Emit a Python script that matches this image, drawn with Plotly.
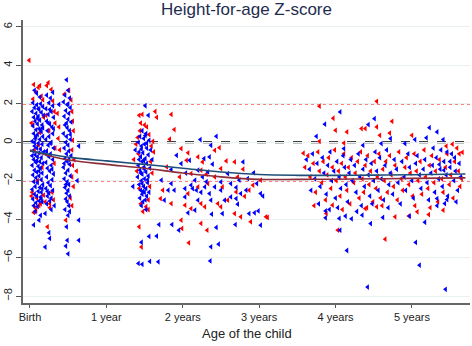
import plotly.graph_objects as go

# ---- data: (age in years, height-for-age z-score) ----
boys_birth = [(0.04,2.05),(0.09,1.95),(0.14,2.0),(0.06,1.8),(0.12,1.7),(0.17,1.85),(0.03,1.6),(0.08,1.5),(0.15,1.55),(0.11,1.35),(0.05,1.3),(0.18,1.4),(0.13,1.15),(0.07,1.1),(0.1,0.95),(0.16,0.9),(0.04,0.85),(0.12,0.7),(0.08,0.65),(0.15,0.55),(0.05,0.45),(0.1,0.4),(0.17,0.3),(0.07,0.2),(0.13,0.15),(0.03,0.05),(0.11,-0.05),(0.16,-0.1),(0.06,-0.2),(0.09,-0.3),(0.14,-0.35),(0.04,-0.45),(0.12,-0.55),(0.18,-0.5),(0.07,-0.65),(0.1,-0.75),(0.15,-0.8),(0.05,-0.9),(0.13,-1.0),(0.08,-1.05),(0.17,-1.1),(0.03,-1.2),(0.11,-1.25),(0.14,-1.35),(0.06,-1.45),(0.09,-1.55),(0.16,-1.6),(0.04,-1.7),(0.12,-1.75),(0.08,-1.85),(0.15,-1.95),(0.05,-2.05),(0.1,-2.1),(0.17,-2.2),(0.07,-2.3),(0.13,-2.35),(0.03,-2.45),(0.11,-2.55),(0.15,-2.6),(0.06,-2.7),(0.09,-2.8),(0.14,-2.85),(0.04,-2.95),(0.12,-3.05),(0.08,-3.15),(0.16,-3.1),(0.05,-3.3),(0.1,-3.35),(0.07,-3.6),(0.12,-4.05),(0.05,-4.3),(0.14,-3.8),(0.09,2.55),(0.06,2.7),(0.13,2.35),(0.1,1.25),(0.14,0.65),(0.06,0.0),(0.09,-0.95),(0.12,-1.5),(0.16,-2.4),(0.03,-0.7),(0.17,0.75),(0.08,0.3),(0.15,-2.95),(0.11,1.75)]
girls_birth = [(-0.01,4.26),(0.05,3.0),(0.11,2.85),(0.08,2.6),(0.15,2.4),(0.04,2.25),(0.17,2.2),(0.02,1.0),(0.18,1.3),(0.13,0.5),(0.06,-0.4),(0.16,-1.3),(0.1,-2.0),(0.03,-2.6),(0.14,-3.2),(0.07,-3.4),(0.12,-3.3),(0.05,-3.65),(0.09,-2.9),(0.18,-2.75),(0.04,0.9),(0.11,-0.15),(0.02,-2.8),(0.13,2.95),(0.08,-3.55)]

boys_3m = [(0.22,2.45),(0.27,2.3),(0.25,2.05),(0.3,1.9),(0.21,1.75),(0.28,1.6),(0.24,1.45),(0.31,1.3),(0.22,1.1),(0.26,0.95),(0.29,0.8),(0.23,0.6),(0.3,0.45),(0.25,0.3),(0.21,0.15),(0.28,0.0),(0.24,-0.15),(0.31,-0.3),(0.22,-0.45),(0.27,-0.6),(0.25,-0.75),(0.3,-0.9),(0.21,-1.05),(0.28,-1.2),(0.23,-1.35),(0.26,-1.5),(0.31,-1.65),(0.22,-1.8),(0.29,-1.95),(0.24,-2.1),(0.27,-2.25),(0.21,-2.4),(0.3,-2.5),(0.25,-2.65),(0.23,-2.8),(0.28,-2.9),(0.26,-3.05),(0.22,-3.2),(0.27,-0.05),(0.24,1.0),(0.29,-1.4),(0.23,-2.55),(0.3,2.6),(0.26,1.7),(0.25,-4.7),(0.26,-5.0),(0.2,-5.45),(0.28,-3.5),(0.32,-3.3),(0.2,-3.7),(0.31,0.7),(0.21,-0.6),(0.38,1.97)]
girls_3m = [(0.24,3.1),(0.28,2.75),(0.22,2.95),(0.3,2.15),(0.32,1.6),(0.33,1.0),(0.2,-3.1),(0.26,-3.4),(0.23,-4.4),(0.31,-3.0),(0.32,-1.1),(0.29,-2.6),(0.25,0.6),(0.21,1.4),(0.33,-0.3),(0.36,1.5),(0.38,0.8),(0.37,0.2),(0.39,-0.4),(0.26,-3.2)]

boys_6m = [(0.48,3.25),(0.5,2.7),(0.46,2.45),(0.52,2.3),(0.44,2.1),(0.49,1.95),(0.53,1.8),(0.47,1.65),(0.51,1.5),(0.45,1.35),(0.5,1.2),(0.54,1.05),(0.46,0.9),(0.49,0.75),(0.52,0.6),(0.44,0.45),(0.48,0.3),(0.53,0.15),(0.47,0.0),(0.5,-0.15),(0.45,-0.3),(0.51,-0.45),(0.48,-0.6),(0.54,-0.7),(0.46,-0.85),(0.49,-1.0),(0.52,-1.15),(0.44,-1.3),(0.5,-1.45),(0.47,-1.6),(0.53,-1.75),(0.45,-1.9),(0.49,-2.05),(0.51,-2.2),(0.46,-2.35),(0.5,-2.5),(0.48,-2.65),(0.52,-2.8),(0.47,-2.95),(0.49,-3.1),(0.51,-3.3),(0.46,-3.5),(0.5,-3.8),(0.48,-4.4),(0.49,-5.1),(0.47,-5.4),(0.5,-5.8),(0.64,-4.05),(0.64,-5.1),(0.48,1.0),(0.51,-0.9),(0.47,-2.2),(0.53,0.4),(0.45,-1.1),(0.5,2.0),(0.52,-3.6),(0.62,-2.0),(0.64,-0.2)]
girls_6m = [(0.51,2.7),(0.54,2.2),(0.55,1.6),(0.56,1.1),(0.57,0.6),(0.55,-0.4),(0.56,-1.2),(0.55,-1.8),(0.57,-2.3),(0.53,-2.9),(0.47,-4.05),(0.55,-3.3),(0.58,-0.9),(0.45,2.5),(0.56,0.1),(0.61,-1.5)]

boys_18m = [(1.51,1.9),(1.55,1.4),(1.47,0.6),(1.52,0.45),(1.44,0.3),(1.49,0.2),(1.56,0.1),(1.42,0.0),(1.5,-0.1),(1.46,-0.2),(1.53,-0.3),(1.58,-0.4),(1.43,-0.5),(1.48,-0.55),(1.55,-0.65),(1.45,-0.75),(1.51,-0.85),(1.6,-0.9),(1.47,-1.0),(1.53,-1.1),(1.42,-1.2),(1.49,-1.3),(1.57,-1.35),(1.44,-1.45),(1.52,-1.55),(1.47,-1.65),(1.55,-1.75),(1.41,-1.8),(1.5,-1.9),(1.46,-2.0),(1.54,-2.1),(1.43,-2.2),(1.49,-2.3),(1.52,-2.4),(1.45,-2.5),(1.5,-2.6),(1.47,-2.7),(1.53,-2.8),(1.44,-2.9),(1.51,-3.0),(1.48,-3.1),(1.46,-3.3),(1.52,-3.5),(1.49,-0.95),(1.46,-0.35),(1.54,-1.95),(1.48,-2.55),(1.43,-0.9),(1.56,-2.6),(1.51,0.35),(1.45,-1.6),(1.5,-1.4),(1.53,-0.05),(1.47,-2.15),(1.56,-4.9),(1.46,-5.2),(1.42,-6.3),(1.47,-6.35),(1.57,-6.2),(1.35,-2.3),(1.38,-0.4)]
girls_18m = [(1.43,1.4),(1.47,1.45),(1.45,1.0),(1.5,0.9),(1.44,0.6),(1.53,0.8),(1.41,0.25),(1.56,0.4),(1.59,-0.2),(1.42,-0.6),(1.58,-1.0),(1.4,-1.5),(1.6,-1.6),(1.43,-2.4),(1.57,-2.3),(1.45,-3.2),(1.52,-3.35),(1.48,-3.6),(1.43,-4.4),(1.46,-5.45),(1.55,-3.0),(1.61,0.05),(1.62,-0.5),(1.36,-0.9),(1.39,-0.1),(1.55,-3.5),(1.64,1.6),(1.66,1.3)]

boys_2y = [(2.23,0.14),(2.44,0.31),(2.37,-0.16),(1.92,-0.68),(1.98,-1.11),(2.09,-0.94),(2.28,-0.85),(2.35,-0.76),(2.39,-1.14),(2.2,-1.45),(2.33,-1.54),(2.26,-1.8),(1.85,-2.15),(1.89,-2.49),(2.03,-2.84),(2.11,-2.23),(2.18,-2.49),(2.29,-2.32),(2.35,-2.67),(2.42,-2.32),(2.5,-2.49),(2.63,-2.15),(2.7,-2.35),(2.74,-1.97),(2.79,-1.02),(2.93,-1.59),(3.02,-2.67),(2.87,-3.71),(2.94,-3.67),(2.99,-3.57),(3.02,-4.31),(2.69,-4.28),(2.44,-4.43),(2.37,-5.44),(2.47,-5.3),(2.36,-6.17),(1.86,-4.28),(1.95,-4.57),(1.69,-4.28),(1.66,-4.88),(1.68,-6.22),(2.07,-3.67),(2.16,-3.53),(2.38,-3.74),(2.52,-3.71),(2.72,-3.22),(2.7,-2.93),(1.76,-3.01),(1.72,-1.97),(1.81,-2.49),(2.03,-2.41),(2.13,-2.41),(2.2,-3.01),(2.37,-3.01),(2.55,-3.01),(2.63,-2.84),(2.76,-2.67),(2.83,-2.49),(3.05,-2.8),(1.85,-1.42),(2.04,-1.6),(2.16,-1.97),(2.5,-2.06),(2.59,-1.63),(2.85,-1.89),(2.97,-2.15),(2.31,-2.05),(2.24,-2.6)]
girls_2y = [(1.85,1.45),(1.89,0.66),(1.83,0.16),(1.98,-0.33),(2.07,-0.55),(2.05,-0.94),(2.2,-0.76),(2.26,-1.02),(2.42,-0.42),(2.48,-0.28),(2.57,-0.97),(2.68,-1.02),(2.79,-1.4),(2.5,-1.37),(2.24,-1.45),(2.31,-1.66),(2.11,-1.63),(1.96,-1.8),(1.79,-1.28),(1.74,-2.49),(1.71,-2.93),(1.85,-3.19),(2.03,-3.27),(2.24,-3.19),(2.29,-3.36),(2.46,-3.19),(2.5,-3.36),(2.59,-3.01),(2.7,-2.58),(2.68,-3.71),(2.81,-2.81),(2.87,-2.49),(2.76,-3.88),(2.89,-4.14),(3.09,-3.88),(3.11,-3.91),(2.11,-3.45),(1.98,-4.05),(1.99,-4.48),(2.24,-4.22),(2.32,-4.57),(2.08,-5.23),(2.42,-1.8),(2.52,-2.32),(2.33,-2.15),(2.2,-2.32),(2.07,-2.67),(2.72,-1.8),(2.92,-2.23),(3.02,-1.97)]

boys_4y = [(4.06,1.58),(3.86,0.94),(4.51,1.23),(4.43,0.92),(3.75,0.31),(5.23,0.76),(5.33,0.54),(5.41,0.14),(5.19,0.23),(4.72,0.19),(4.6,-0.07),(4.91,-0.07),(5.04,0.14),(4.36,-0.16),(4.11,-0.33),(3.87,-3.57),(3.87,-3.93),(4.05,-3.96),(4.13,-3.84),(4.21,-3.98),(4.35,-3.79),(4.62,-3.91),(4.46,-4.23),(5.17,-4.16),(4.06,-4.57),(4.15,-5.63),(4.42,-7.53),(5.1,-6.39),(5.44,-7.65),(5.05,-5.21),(4.97,-3.84),(5.33,-2.93),(5.46,-2.98),(5.43,-3.19),
           (3.62,-0.9),(3.66,-1.4),(3.7,-0.6),(3.73,-1.9),(3.76,-1.1),(3.8,-2.3),(3.83,-0.8),(3.85,-1.6),(3.88,-2.7),(3.9,-1.2),(3.93,-0.5),(3.95,-2.0),(3.98,-1.5),(4.0,-2.9),(4.02,-1.0),(4.05,-1.8),(4.07,-2.4),(4.1,-0.7),(4.12,-1.3),(4.14,-2.2),(4.16,-3.1),(4.18,-1.6),(4.2,-0.9),(4.22,-2.0),(4.25,-1.2),(4.27,-2.6),(4.3,-0.6),(4.32,-1.8),(4.34,-3.3),(4.36,-1.4),(4.38,-2.3),(4.4,-0.9),(4.43,-1.7),(4.45,-2.8),(4.47,-1.1),(4.5,-2.0),(4.52,-0.5),(4.54,-1.5),(4.56,-2.5),(4.58,-0.8),(4.6,-1.9),(4.63,-3.0),(4.65,-1.2),(4.67,-0.4),(4.7,-2.2),(4.72,-1.6),(4.75,-2.7),(4.77,-0.9),(4.8,-1.4),(4.82,-2.1),(4.85,-3.2),(4.87,-1.0),(4.9,-1.8),(4.92,-2.5),(4.95,-0.6),(4.97,-1.3),(5.0,-2.0),(5.02,-2.9),(5.05,-1.1),(5.07,-0.7),(5.1,-1.7),(5.12,-2.4),(5.15,-1.4),(5.17,-0.9),(5.2,-2.1),(5.22,-3.0),(5.25,-1.6),(5.27,-1.2),(5.3,-2.6),(5.32,-0.8),(5.35,-1.9),(5.37,-1.4),(5.4,-2.3),(5.42,-1.0),(5.45,-1.7),(5.47,-2.8),(5.5,-1.3),(5.52,-0.6),(5.55,-2.0),(5.57,-1.5),(5.6,-2.5),(5.62,-1.1),(5.64,-1.8),(3.68,-2.5),(3.78,-3.2),(3.92,-3.5),(4.03,-3.4),(4.28,-3.6),(4.48,-3.2),(4.69,-3.4),(5.33,-3.3),(5.58,-3.1),(5.28,-0.3),(5.38,-0.4),(5.46,-0.5),(5.56,-0.8),(5.5,-1.0),(5.42,-1.45),(5.36,-1.15)]
girls_4y = [(3.79,1.88),(4.54,2.13),(3.97,1.25),(4.0,0.62),(4.15,0.54),(4.34,0.71),(4.39,0.71),(4.54,0.8),(4.74,1.09),(4.58,0.36),(4.71,0.48),(5.0,0.36),(3.58,-0.57),(5.66,-0.52),(4.11,-0.04),(3.79,0.05),(4.03,-4.57),(4.65,-5.04),(4.78,-3.88),(4.96,-3.84),(5.07,-3.62),(5.22,-3.76),(5.41,-3.53),(3.88,-3.71),(3.96,-3.27),(4.39,-3.45),(4.54,-3.36),
            (3.6,-1.3),(3.64,-0.7),(3.67,-1.8),(3.71,-1.1),(3.74,-2.6),(3.77,-0.5),(3.79,-1.5),(3.82,-2.1),(3.84,-1.0),(3.87,-3.0),(3.89,-1.7),(3.91,-0.8),(3.94,-2.4),(3.96,-1.3),(3.99,-0.4),(4.01,-2.0),(4.04,-1.5),(4.06,-2.8),(4.08,-1.1),(4.11,-0.6),(4.13,-1.8),(4.15,-2.5),(4.17,-1.3),(4.19,-3.2),(4.21,-0.8),(4.24,-2.1),(4.26,-1.6),(4.29,-1.0),(4.31,-2.9),(4.33,-0.5),(4.35,-1.9),(4.37,-2.6),(4.39,-1.2),(4.42,-0.7),(4.44,-2.2),(4.46,-1.5),(4.49,-3.1),(4.51,-1.0),(4.53,-2.4),(4.55,-1.8),(4.57,-0.6),(4.59,-2.9),(4.62,-1.4),(4.64,-2.0),(4.66,-1.0),(4.68,-2.6),(4.71,-0.7),(4.73,-1.7),(4.76,-2.3),(4.78,-1.2),(4.81,-3.0),(4.83,-0.5),(4.86,-1.9),(4.88,-2.5),(4.91,-1.3),(4.93,-0.8),(4.96,-2.2),(4.98,-1.6),(5.01,-2.8),(5.03,-0.6),(5.06,-1.5),(5.08,-2.0),(5.11,-1.0),(5.13,-2.7),(5.16,-0.4),(5.18,-1.8),(5.21,-2.4),(5.23,-1.2),(5.26,-0.7),(5.29,-2.1),(5.31,-1.5),(5.34,-3.1),(5.36,-0.9),(5.39,-1.9),(5.41,-2.6),(5.44,-1.3),(5.46,-0.6),(5.49,-2.2),(5.51,-1.7),(5.54,-2.9),(5.56,-1.0),(5.59,-0.3),(5.61,-1.5),(5.63,-2.3),(5.65,-1.9),(3.72,-3.3),(4.09,-3.5),(4.41,-3.4),(4.61,-3.3),(5.04,-3.3),(5.24,-3.4),(5.45,-0.2),(5.53,-0.1),(5.62,-0.6)]

# smoothed trend lines
fit_age = [0.0, 0.3, 0.55, 1.0, 1.5, 2.0, 2.5, 3.0, 3.5, 4.0, 4.5, 5.0, 5.7]
fit_boys = [-0.45, -0.65, -0.8, -0.97, -1.15, -1.35, -1.55, -1.68, -1.72, -1.72, -1.71, -1.69, -1.65]
fit_girls = [-0.4, -0.75, -0.95, -1.15, -1.35, -1.6, -1.8, -1.93, -1.93, -1.92, -1.9, -1.88, -1.85]

tick_vals = [0, 1, 2, 3, 4, 5]
tick_text = ["Birth", "1 year", "2 years", "3 years", "4 years", "5 years"]
y_ticks = [-8, -6, -4, -2, 0, 2, 4, 6]

boys = boys_birth + boys_3m + boys_6m + boys_18m + boys_2y + boys_4y
girls = girls_birth + girls_3m + girls_6m + girls_18m + girls_2y + girls_4y

fig = go.Figure()
fig.add_trace(go.Scatter(x=[p[0] for p in girls], y=[p[1] for p in girls], mode="markers",
                         name="Girls", marker=dict(symbol="triangle-left", size=5, color="#ff0000")))
fig.add_trace(go.Scatter(x=[p[0] for p in boys], y=[p[1] for p in boys], mode="markers",
                         name="Boys", marker=dict(symbol="triangle-left", size=5, color="#0000ff")))
fig.add_trace(go.Scatter(x=fit_age, y=fit_girls, mode="lines", name="Girls fit",
                         line=dict(color="#8c2d3b", width=1.6, shape="spline")))
fig.add_trace(go.Scatter(x=fit_age, y=fit_boys, mode="lines", name="Boys fit",
                         line=dict(color="#1f4f78", width=1.6, shape="spline")))

shapes = [
    dict(type="line", xref="paper", x0=0, x1=1, yref="y", y0=0, y1=0, layer="below",
         line=dict(color="black", width=2, dash="dash")),
    dict(type="line", xref="paper", x0=0, x1=1, yref="y", y0=2, y1=2, layer="below",
         line=dict(color="#ff0000", width=1.5, dash="dot")),
    dict(type="line", xref="paper", x0=0, x1=1, yref="y", y0=-2, y1=-2, layer="below",
         line=dict(color="#ff0000", width=1.5, dash="dot")),
]

fig.update_layout(
    width=472, height=346,
    margin=dict(l=21, r=2, t=20, b=43),
    paper_bgcolor="white", plot_bgcolor="white",
    showlegend=False,
    font=dict(family="Liberation Sans, Arial, sans-serif", color="#222222", size=11),
    title=dict(text="Height-for-age Z-score", x=0.5, xref="paper", xanchor="center",
               y=0.975, yanchor="middle",
               font=dict(size=17, color="#1e2d50")),
    shapes=shapes,
    annotations=[dict(text="Age of the child", xref="paper", yref="paper", x=0.5, y=-0.108,
                      xanchor="center", yanchor="middle", showarrow=False,
                      font=dict(size=13, color="#222222"))],
    xaxis=dict(range=[-0.091, 5.76], tickvals=tick_vals, ticktext=tick_text,
               ticks="outside", ticklen=3, tickcolor="#555555", tickwidth=1,
               showline=True, linecolor="#666666", linewidth=1.5,
               showgrid=False, zeroline=False),
    yaxis=dict(range=[-8.36, 6.36], tickvals=y_ticks, tickangle=-90,
               ticks="outside", ticklen=5, tickcolor="#555555", tickwidth=1,
               showline=True, linecolor="#666666", linewidth=1.5,
               showgrid=True, gridcolor="#e9f1f3", gridwidth=1, zeroline=False),
)

fig.write_html("out.html", config={"displayModeBar": False},
               post_script="document.body.style.margin='0';document.body.style.padding='0';")
